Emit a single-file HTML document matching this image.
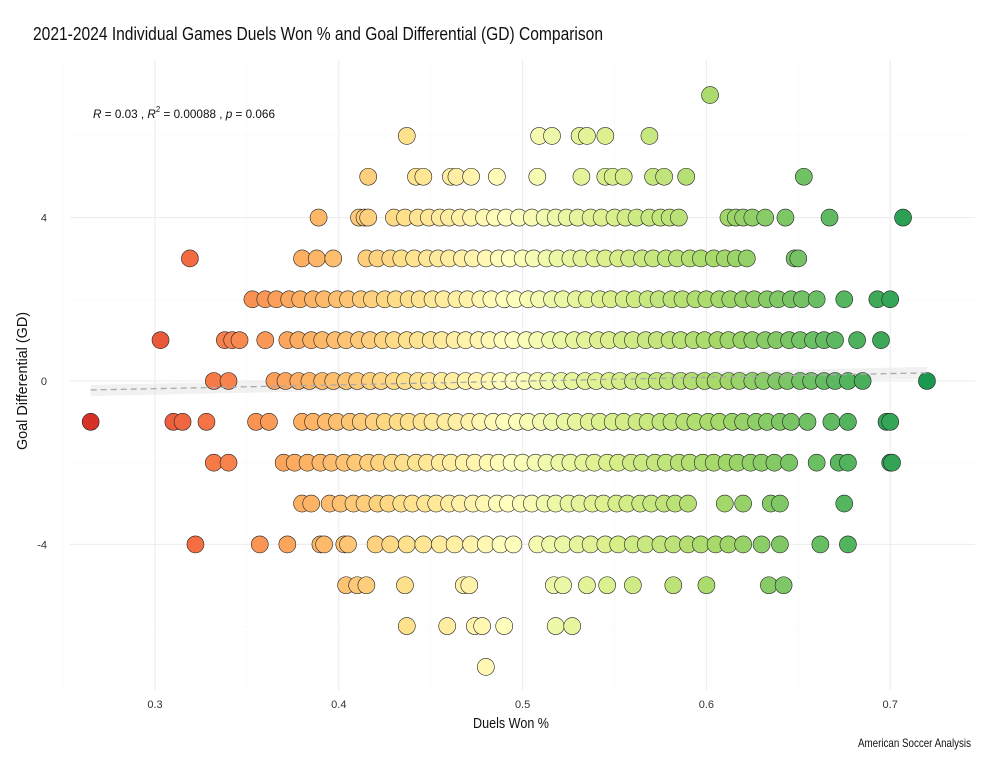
<!DOCTYPE html>
<html><head><meta charset="utf-8">
<style>
body{margin:0;background:#fff;}
svg text{font-family:"Liberation Sans Narrow","Liberation Sans",sans-serif;}
</style></head>
<body>
<svg id="chart" width="1004" height="762" viewBox="0 0 1004 762">
<text x="33" y="40" font-size="18" fill="#111" textLength="570" lengthAdjust="spacingAndGlyphs">2021-2024 Individual Games Duels Won % and Goal Differential (GD) Comparison</text>
<g id="grid"></g>
<g id="band"></g>
<g id="pts"></g>
<g id="axes"></g>
<text x="93" y="118" font-size="12" fill="#111" textLength="182" lengthAdjust="spacingAndGlyphs"><tspan font-style="italic">R</tspan> = 0.03 , <tspan font-style="italic">R</tspan><tspan dy="-6" font-size="8">2</tspan><tspan dy="6"> = 0.00088 , </tspan><tspan font-style="italic">p</tspan> = 0.066</text>
<text x="473" y="728" font-size="15" fill="#111" textLength="76" lengthAdjust="spacingAndGlyphs">Duels Won %</text>
<text transform="translate(27,450) rotate(-90)" font-size="15" fill="#111" textLength="138" lengthAdjust="spacingAndGlyphs">Goal Differential (GD)</text>
<text x="858" y="747" font-size="12" fill="#111" textLength="113" lengthAdjust="spacingAndGlyphs">American Soccer Analysis</text>
</svg>
<script>
const xTicks=[0.3,0.4,0.5,0.6,0.7];
const yTicks=[-4,0,4];
const gdRows=[7,6,5,4,3,2,1,0,-1,-2,-3,-4,-5,-6,-7];
const row7=[0.602];
const row6=[0.437,0.509,0.516,0.531,0.535,0.545,0.569];
const row5=[0.416,0.442,0.446,0.461,0.464,0.472,0.486,0.508,0.532,0.545,0.549,0.555,0.571,0.577,0.589,0.653];
const row4=[0.389,0.411,0.414,0.416,0.43,0.436,0.443,0.449,0.455,0.46,0.466,0.472,0.479,0.485,0.491,0.498,0.505,0.512,0.518,0.524,0.53,0.537,0.543,0.55,0.556,0.562,0.569,0.575,0.58,0.585,0.612,0.616,0.62,0.625,0.632,0.643,0.667,0.707];
const row3=[0.319,0.38,0.388,0.397,0.415,0.421,0.428,0.434,0.441,0.448,0.454,0.46,0.467,0.473,0.48,0.487,0.493,0.5,0.506,0.513,0.519,0.526,0.532,0.539,0.545,0.552,0.558,0.565,0.571,0.578,0.584,0.591,0.597,0.604,0.61,0.616,0.622,0.648,0.65];
const row2=[0.353,0.36,0.366,0.373,0.379,0.386,0.392,0.399,0.405,0.412,0.418,0.425,0.431,0.438,0.444,0.451,0.457,0.464,0.47,0.477,0.483,0.49,0.496,0.503,0.509,0.516,0.522,0.529,0.535,0.542,0.548,0.555,0.561,0.568,0.574,0.581,0.587,0.594,0.6,0.607,0.613,0.62,0.626,0.633,0.639,0.646,0.652,0.66,0.675,0.693,0.7];
const row1=[0.303,0.338,0.342,0.346,0.36,0.372,0.378,0.385,0.391,0.398,0.404,0.411,0.417,0.424,0.43,0.437,0.443,0.45,0.456,0.463,0.469,0.476,0.482,0.489,0.495,0.502,0.508,0.515,0.521,0.528,0.534,0.541,0.547,0.554,0.56,0.567,0.573,0.58,0.586,0.593,0.599,0.606,0.612,0.619,0.625,0.632,0.638,0.645,0.651,0.658,0.664,0.67,0.682,0.695];
const row0=[0.332,0.34,0.365,0.371,0.378,0.384,0.391,0.397,0.404,0.41,0.417,0.423,0.43,0.436,0.443,0.449,0.456,0.462,0.469,0.475,0.482,0.488,0.495,0.501,0.508,0.514,0.521,0.527,0.534,0.54,0.547,0.553,0.56,0.566,0.573,0.579,0.586,0.592,0.599,0.605,0.612,0.618,0.625,0.631,0.638,0.644,0.651,0.657,0.664,0.67,0.677,0.685,0.72];
const rowM1=[0.265,0.31,0.315,0.328,0.355,0.362,0.38,0.386,0.393,0.399,0.406,0.412,0.419,0.425,0.432,0.438,0.445,0.451,0.458,0.464,0.471,0.477,0.484,0.49,0.497,0.503,0.51,0.516,0.523,0.529,0.536,0.542,0.549,0.555,0.562,0.568,0.575,0.581,0.588,0.594,0.601,0.607,0.614,0.62,0.627,0.633,0.64,0.646,0.655,0.668,0.677,0.698,0.7];
const rowM2=[0.332,0.34,0.37,0.376,0.383,0.39,0.396,0.403,0.409,0.416,0.422,0.429,0.435,0.442,0.448,0.455,0.461,0.468,0.474,0.481,0.487,0.494,0.5,0.507,0.513,0.52,0.526,0.533,0.539,0.546,0.552,0.559,0.565,0.572,0.578,0.585,0.591,0.598,0.604,0.611,0.617,0.624,0.63,0.637,0.645,0.66,0.672,0.677,0.7,0.701];
const rowM3=[0.38,0.385,0.395,0.401,0.408,0.414,0.421,0.427,0.434,0.44,0.447,0.453,0.46,0.466,0.473,0.479,0.486,0.492,0.499,0.505,0.512,0.518,0.525,0.531,0.538,0.544,0.551,0.557,0.564,0.57,0.577,0.583,0.59,0.61,0.62,0.635,0.64,0.675];
const rowM4=[0.322,0.357,0.372,0.39,0.392,0.403,0.405,0.42,0.428,0.437,0.446,0.455,0.463,0.472,0.48,0.488,0.495,0.508,0.515,0.522,0.53,0.537,0.545,0.552,0.56,0.567,0.575,0.582,0.59,0.597,0.605,0.612,0.62,0.63,0.64,0.662,0.677];
const rowM5=[0.404,0.41,0.415,0.436,0.468,0.471,0.517,0.522,0.535,0.546,0.56,0.582,0.6,0.634,0.642];
const rowM6=[0.437,0.459,0.474,0.478,0.49,0.518,0.527];
const rowM7=[0.48];
const rows=[row7,row6,row5,row4,row3,row2,row1,row0,rowM1,rowM2,rowM3,rowM4,rowM5,rowM6,rowM7];
const fitX=[0.265,0.72];
const fitY=[-0.22,0.2];

const NS="http://www.w3.org/2000/svg";
const L=70,R=975,T=60,B=690;
const xs=v=>155+(v-0.3)*1838;
const ys=v=>381-v*40.85;
function mk(tag,attrs,parent){const e=document.createElementNS(NS,tag);for(const k in attrs)e.setAttribute(k,attrs[k]);parent.appendChild(e);return e;}
const grid=document.getElementById('grid'),axes=document.getElementById('axes');
[0.25,0.35,0.45,0.55,0.65].forEach(v=>{const l=mk('line',{x1:xs(v),x2:xs(v),y1:T,y2:B,stroke:'#f5f5f5','stroke-width':0.5},grid);

});
[-6,-2,2,6].forEach(v=>{const l=mk('line',{x1:L,x2:R,y1:ys(v),y2:ys(v),stroke:'#f5f5f5','stroke-width':0.5},grid);

});
xTicks.forEach(v=>{const l=mk('line',{x1:xs(v),x2:xs(v),y1:T,y2:B,stroke:'#ebebeb','stroke-width':1},grid);


const t=mk('text',{x:xs(v),y:708,'font-size':11,'text-anchor':'middle',fill:'#333'},axes);t.textContent=v;

});
yTicks.forEach(v=>{const l=mk('line',{x1:L,x2:R,y1:ys(v),y2:ys(v),stroke:'#ebebeb','stroke-width':1},grid);


const t=mk('text',{x:47,y:ys(v)+4,'font-size':11,'text-anchor':'end',fill:'#333'},axes);t.textContent=v;

});
const band=document.getElementById('band');
const poly=mk('polygon',{points:`${xs(fitX[0])},${ys(fitY[0])-5} ${xs(fitX[1])},${ys(fitY[1])-6} ${xs(fitX[1])},${ys(fitY[1])+6} ${xs(fitX[0])},${ys(fitY[0])+6}`,fill:'#e4e4e4','fill-opacity':0.5},band);


const stops=['#d73027','#f46d43','#fdae61','#fee08b','#ffffbf','#d9ef8b','#a6d96a','#66bd63','#1a9850'];
function hx(c){return [1,3,5].map(i=>parseInt(c.substr(i,2),16));}
function col(v){let t=(v-0.265)/(0.72-0.265);t=Math.max(0,Math.min(1,t))*(stops.length-1);const i=Math.min(stops.length-2,Math.floor(t)),f=t-i;const a=hx(stops[i]),b=hx(stops[i+1]);return 'rgb('+a.map((x,k)=>Math.round(x+(b[k]-x)*f)).join(',')+')';}
const pts=document.getElementById('pts');
rows.forEach((r,ri)=>{r.forEach(v=>{const c=mk('circle',{cx:xs(v),cy:ys(gdRows[ri]),r:8.5,fill:col(v),stroke:'#222','stroke-width':0.6},pts);

});});
const fl=mk('line',{x1:xs(fitX[0]),y1:ys(fitY[0]),x2:xs(fitX[1]),y2:ys(fitY[1]),stroke:'#aaa','stroke-width':1.3,'stroke-dasharray':'6,4'},band.parentNode);


</script>
</body></html>
